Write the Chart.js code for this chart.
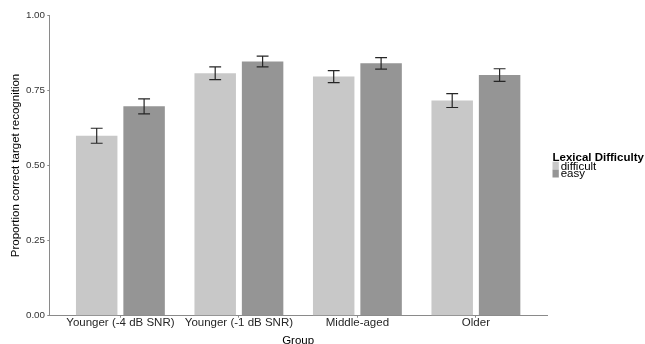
<!DOCTYPE html>
<html><head><meta charset="utf-8">
<script src="https://cdn.jsdelivr.net/npm/chart.js@4.4.0/dist/chart.umd.min.js"></script>
<style>html,body{margin:0;padding:0;background:#fff}#wrap{width:645px;height:344px;position:relative}</style>
</head><body><div id="wrap"><canvas id="c"></canvas></div>
<script>
const groups = ["Younger (-4 dB SNR)", "Younger (-1 dB SNR)", "Middle-aged", "Older"];
const seriesNames = ["difficult", "easy"];
const difficultMeans = [0.599, 0.807, 0.796, 0.716];
const easyMeans = [0.697, 0.846, 0.840, 0.801];
const difficultErr = [0.025, 0.021, 0.020, 0.023];
const easyErr = [0.025, 0.018, 0.019, 0.021];
const yTicks = [0, 0.25, 0.5, 0.75, 1];
const legendTitle = "Lexical Difficulty";
const xTitle = "Group";
const yTitle = "Proportion correct target recognition";

const FONT = '"Liberation Sans", Arial, Helvetica, sans-serif';
Chart.defaults.font.family = FONT;

const errorBars = {
  id: 'errorBars',
  afterDatasetsDraw(chart) {
    const ctx = chart.ctx, ys = chart.scales.y, xs = chart.scales.x;
    const half = Math.abs(xs.getPixelForValue(0.05) - xs.getPixelForValue(0));
    chart.data.datasets.forEach((ds, di) => {
      const meta = chart.getDatasetMeta(di);
      meta.data.forEach((bar, i) => {
        const v = ds.data[i].y, e = ds.errors[i];
        const yt = ys.getPixelForValue(v + e), yb = ys.getPixelForValue(v - e);
        ctx.save();
        ctx.strokeStyle = '#262626';
        ctx.lineWidth = 1.2;
        ctx.beginPath();
        ctx.moveTo(bar.x, yt); ctx.lineTo(bar.x, yb);
        ctx.moveTo(bar.x - half, yt); ctx.lineTo(bar.x + half, yt);
        ctx.moveTo(bar.x - half, yb); ctx.lineTo(bar.x + half, yb);
        ctx.stroke();
        ctx.restore();
      });
    });
  }
};

const ggLegend = {
  id: 'ggLegend',
  afterDraw(chart) {
    const ctx = chart.ctx, area = chart.chartArea;
    const x0 = area.right + 5.5;
    const cy = (area.top + area.bottom) / 2;
    ctx.save();
    ctx.textAlign = 'left';
    ctx.textBaseline = 'alphabetic';
    ctx.fillStyle = '#000';
    ctx.font = 'bold 11.5px ' + FONT;
    ctx.fillText(legendTitle, x0, cy - 5);
    ctx.font = '11.5px ' + FONT;
    chart.data.datasets.forEach((ds, i) => {
      const top = cy - 3.8 + i * 7.9;
      ctx.fillStyle = ds.backgroundColor;
      ctx.fillRect(x0, top, 6.3, 7.9);
      ctx.fillStyle = '#000';
      ctx.fillText(ds.label, x0 + 8.2, top + 7.8);
    });
    ctx.restore();
  }
};

const axisColor = '#8a8a8a';

new Chart(document.getElementById('c'), {
  type: 'bar',
  data: {
    datasets: [
      { label: seriesNames[0], data: difficultMeans.map((v, i) => ({ x: i, y: v })), errors: difficultErr, backgroundColor: '#c8c8c8', borderWidth: 0 },
      { label: seriesNames[1], data: easyMeans.map((v, i) => ({ x: i, y: v })), errors: easyErr, backgroundColor: '#959595', borderWidth: 0 }
    ]
  },
  options: {
    responsive: true,
    maintainAspectRatio: false,
    devicePixelRatio: 1,
    animation: false,
    datasets: { bar: { categoryPercentage: 0.8, barPercentage: 0.875 } },
    layout: { padding: { top: 15.3, right: 98, bottom: 0, left: 0 } },
    plugins: { legend: { display: false }, tooltip: { enabled: false } },
    scales: {
      x: {
        type: 'linear', min: -0.6, max: 3.6, offset: false,
        afterBuildTicks(s) { s.ticks = groups.map((_, i) => ({ value: i })); },
        afterFit(s) { s.height = 28.3; },
        grid: { offset: false, drawOnChartArea: false, drawTicks: true, tickLength: 2, color: axisColor },
        border: { display: true, color: axisColor, width: 1 },
        ticks: {
          callback: (v) => groups[v] ?? '',
          padding: -2, color: '#262626', autoSkip: false, maxRotation: 0,
          font: { family: FONT, size: 11.5 }
        },
        title: { display: true, text: xTitle, color: '#000', font: { family: FONT, size: 11.5 }, padding: { top: 0, bottom: -4 } }
      },
      y: {
        min: 0, max: 1,
        afterBuildTicks(s) { s.ticks = yTicks.map(v => ({ value: v })); },
        afterFit(s) { s.width = 49.3; },
        grid: { drawOnChartArea: false, drawTicks: true, tickLength: 2, color: axisColor },
        border: { display: true, color: axisColor, width: 1 },
        ticks: {
          callback: (v) => Number(v).toFixed(2),
          padding: 2.3, color: '#333333',
          font: { family: FONT, size: 9.8 }
        },
        title: { display: true, text: yTitle, color: '#000', font: { family: FONT, size: 11.5 }, padding: { top: 8.6, bottom: 0 } }
      }
    }
  },
  plugins: [errorBars, ggLegend]
});
</script>
</body></html>
